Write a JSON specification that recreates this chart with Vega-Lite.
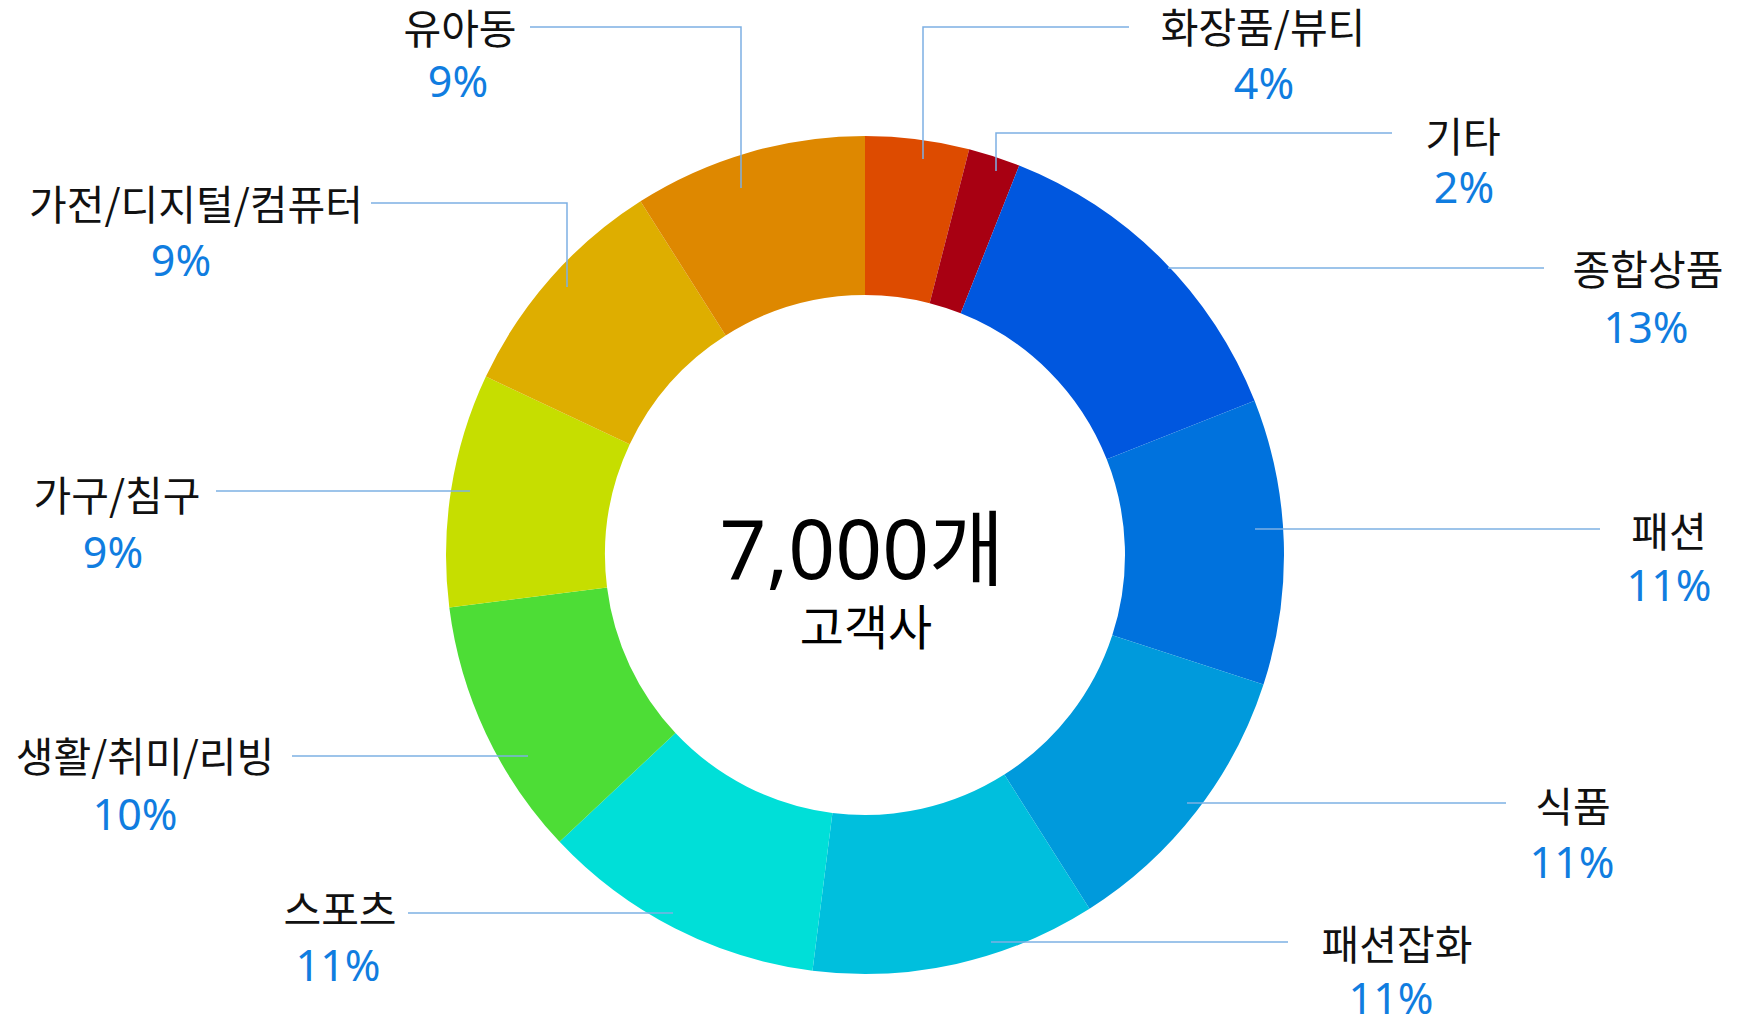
{
  "$schema": "https://vega.github.io/schema/vega-lite/v6.json",
  "width": 1739,
  "height": 1015,
  "autosize": {"type": "none"},
  "padding": 0,
  "background": "white",
  "config": {"view": {"stroke": null}},
  "datasets": {
    "shares": [
      {"category": "화장품/뷰티", "share": 0.04, "rank": 1},
      {"category": "기타", "share": 0.02, "rank": 2},
      {"category": "종합상품", "share": 0.13, "rank": 3},
      {"category": "패션", "share": 0.11, "rank": 4},
      {"category": "식품", "share": 0.11, "rank": 5},
      {"category": "패션잡화", "share": 0.11, "rank": 6},
      {"category": "스포츠", "share": 0.11, "rank": 7},
      {"category": "생활/취미/리빙", "share": 0.10, "rank": 8},
      {"category": "가구/침구", "share": 0.09, "rank": 9},
      {"category": "가전/디지털/컴퓨터", "share": 0.09, "rank": 10},
      {"category": "유아동", "share": 0.09, "rank": 11}
    ],
    "labels": [
      {"category": "화장품/뷰티", "nx": 398, "ny": 527, "px": 399, "py": 472},
      {"category": "기타", "nx": 598, "ny": 418, "px": 599, "py": 368},
      {"category": "종합상품", "nx": 783, "ny": 285, "px": 781, "py": 228},
      {"category": "패션", "nx": 804, "ny": 23, "px": 804, "py": -30},
      {"category": "식품", "nx": 708, "ny": -252, "px": 707, "py": -307},
      {"category": "패션잡화", "nx": 532, "ny": -390, "px": 526, "py": -443},
      {"category": "스포츠", "nx": -525, "ny": -355, "px": -527, "py": -410},
      {"category": "생활/취미/리빙", "nx": -720, "ny": -202, "px": -730, "py": -259},
      {"category": "가구/침구", "nx": -748, "ny": 59, "px": -752, "py": 3},
      {"category": "가전/디지털/컴퓨터", "nx": -669, "ny": 350, "px": -684, "py": 295},
      {"category": "유아동", "nx": -405, "ny": 526, "px": -407, "py": 474}
    ],
    "leaders": [
      {"category": "화장품/뷰티", "seq": 1, "lx": 58, "ly": 396},
      {"category": "화장품/뷰티", "seq": 2, "lx": 58, "ly": 528},
      {"category": "화장품/뷰티", "seq": 3, "lx": 264, "ly": 528},
      {"category": "기타", "seq": 1, "lx": 131, "ly": 384},
      {"category": "기타", "seq": 2, "lx": 131, "ly": 422},
      {"category": "기타", "seq": 3, "lx": 527, "ly": 422},
      {"category": "종합상품", "seq": 1, "lx": 303, "ly": 287},
      {"category": "종합상품", "seq": 2, "lx": 679, "ly": 287},
      {"category": "패션", "seq": 1, "lx": 390, "ly": 26},
      {"category": "패션", "seq": 2, "lx": 735, "ly": 26},
      {"category": "식품", "seq": 1, "lx": 322, "ly": -248},
      {"category": "식품", "seq": 2, "lx": 641, "ly": -248},
      {"category": "패션잡화", "seq": 1, "lx": 126, "ly": -387},
      {"category": "패션잡화", "seq": 2, "lx": 423, "ly": -387},
      {"category": "스포츠", "seq": 1, "lx": -457, "ly": -358},
      {"category": "스포츠", "seq": 2, "lx": -192, "ly": -358},
      {"category": "생활/취미/리빙", "seq": 1, "lx": -573, "ly": -201},
      {"category": "생활/취미/리빙", "seq": 2, "lx": -337, "ly": -201},
      {"category": "가구/침구", "seq": 1, "lx": -649, "ly": 64},
      {"category": "가구/침구", "seq": 2, "lx": -395, "ly": 64},
      {"category": "가전/디지털/컴퓨터", "seq": 1, "lx": -494, "ly": 352},
      {"category": "가전/디지털/컴퓨터", "seq": 2, "lx": -298, "ly": 352},
      {"category": "가전/디지털/컴퓨터", "seq": 3, "lx": -298, "ly": 268},
      {"category": "유아동", "seq": 1, "lx": -335, "ly": 528},
      {"category": "유아동", "seq": 2, "lx": -124, "ly": 528},
      {"category": "유아동", "seq": 3, "lx": -124, "ly": 367}
    ]
  },
  "layer": [
    {
      "data": {"name": "shares"},
      "mark": {
        "type": "arc",
        "outerRadius": 419,
        "innerRadius": 260,
        "x": {"expr": "scale('x', 0)"},
        "y": {"expr": "scale('y', 0)"}
      },
      "encoding": {
        "theta": {"field": "share", "type": "quantitative", "stack": true},
        "order": {"field": "rank", "type": "quantitative"},
        "color": {
          "field": "category",
          "type": "nominal",
          "legend": null,
          "scale": {
            "domain": ["화장품/뷰티", "기타", "종합상품", "패션", "식품", "패션잡화", "스포츠", "생활/취미/리빙", "가구/침구", "가전/디지털/컴퓨터", "유아동"],
            "range": ["#DD4B00", "#A80012", "#0057DF", "#0072DD", "#009ADC", "#00BFDD", "#00DFD8", "#4DDD36", "#C6DE00", "#DEAE00", "#DE8800"]
          }
        }
      }
    },
    {
      "data": {"name": "leaders"},
      "mark": {"type": "line", "color": "#7DB0E3", "strokeWidth": 1.5},
      "encoding": {
        "x": {"field": "lx", "type": "quantitative", "axis": null, "scale": {"domain": [-865, 874], "nice": false, "zero": false}},
        "y": {"field": "ly", "type": "quantitative", "axis": null, "scale": {"domain": [-460, 555], "nice": false, "zero": false}},
        "detail": {"field": "category"},
        "order": {"field": "seq", "type": "quantitative"}
      }
    },
    {
      "data": {"name": "labels"},
      "mark": {"type": "text", "font": "Noto Sans CJK KR", "fontSize": 41, "color": "#111111", "align": "center", "baseline": "middle", "dy": 3},
      "encoding": {
        "x": {"field": "nx", "type": "quantitative", "axis": null, "scale": {"domain": [-865, 874], "nice": false, "zero": false}},
        "y": {"field": "ny", "type": "quantitative", "axis": null, "scale": {"domain": [-460, 555], "nice": false, "zero": false}},
        "text": {"field": "category"}
      }
    },
    {
      "data": {"name": "labels"},
      "transform": [
        {"lookup": "category", "from": {"data": {"name": "shares"}, "key": "category", "fields": ["share"]}}
      ],
      "mark": {"type": "text", "font": "Noto Sans", "fontSize": 43, "color": "#107DE0", "align": "center", "baseline": "middle", "dy": 3},
      "encoding": {
        "x": {"field": "px", "type": "quantitative", "axis": null, "scale": {"domain": [-865, 874], "nice": false, "zero": false}},
        "y": {"field": "py", "type": "quantitative", "axis": null, "scale": {"domain": [-460, 555], "nice": false, "zero": false}},
        "text": {"field": "share", "type": "quantitative", "format": ".0%"}
      }
    },
    {
      "data": {"values": [{"caption": "7,000개"}]},
      "mark": {"type": "text", "font": "Noto Sans, Noto Sans CJK KR", "fontSize": 82, "color": "#000000", "align": "center", "baseline": "middle", "dy": 5},
      "encoding": {
        "x": {"datum": -3, "type": "quantitative"},
        "y": {"datum": 6, "type": "quantitative"},
        "text": {"field": "caption"}
      }
    },
    {
      "data": {"values": [{"caption": "고객사"}]},
      "mark": {"type": "text", "font": "Noto Sans CJK KR", "fontSize": 48, "color": "#000000", "align": "center", "baseline": "middle", "dy": 4},
      "encoding": {
        "x": {"datum": 1, "type": "quantitative"},
        "y": {"datum": -72, "type": "quantitative"},
        "text": {"field": "caption"}
      }
    }
  ]
}
